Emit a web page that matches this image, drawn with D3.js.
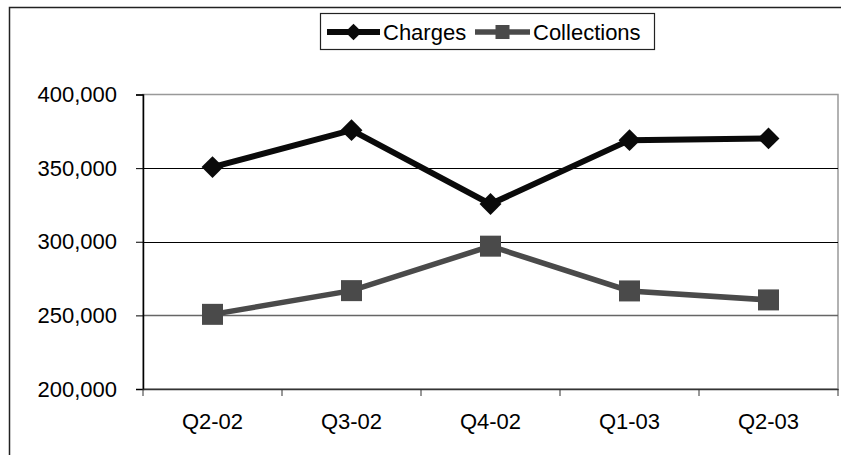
<!DOCTYPE html>
<html>
<head>
<meta charset="utf-8">
<script src="https://cdn.jsdelivr.net/npm/d3@7"></script>
<style>
  html, body { margin: 0; padding: 0; background: #fff; }
  svg { display: block; font-family: "Liberation Sans", Arial, sans-serif; }
</style>
</head>
<body>
<svg id="chart" width="841" height="455"></svg>
<script>
// Quarterly figures
const quarters = ["Q2-02", "Q3-02", "Q4-02", "Q1-03", "Q2-03"];
const charges = [350700, 375800, 325600, 369000, 370200];
const collections = [250700, 266800, 297000, 266600, 260500];
const yTicks = [200000, 250000, 300000, 350000, 400000];

const svg = d3.select("#chart");
const W = 841, H = 455;
const plot = { left: 143, top: 94.5, right: 838, bottom: 389 };
const fontSize = 22;

// outer frame (runs off the right and bottom edges)
svg.append("rect")
  .attr("x", 9.5).attr("y", 7.5)
  .attr("width", W + 20).attr("height", H + 20)
  .attr("fill", "#fff").attr("stroke", "#222").attr("stroke-width", 1.5);

const x = d3.scaleBand().domain(quarters).range([plot.left, plot.right]);
const y = d3.scaleLinear().domain([200000, 400000]).range([plot.bottom, plot.top]);

// plot frame
svg.append("rect")
  .attr("x", plot.left).attr("y", plot.top)
  .attr("width", plot.right - plot.left).attr("height", plot.bottom - plot.top)
  .attr("fill", "#fff").attr("stroke", "#999").attr("stroke-width", 1.5);

// gridlines
svg.append("g").selectAll("line")
  .data(yTicks.filter(v => v > 200000 && v < 400000))
  .join("line")
  .attr("x1", plot.left).attr("x2", plot.right)
  .attr("y1", d => Math.round(y(d)) + 0.5).attr("y2", d => Math.round(y(d)) + 0.5)
  .attr("stroke", d => d === 250000 ? "#666" : "#000")
  .attr("stroke-width", d => d === 250000 ? 1.5 : 1.2);

// y axis
const fmt = d3.format(",");
const yAxis = svg.append("g")
  .attr("transform", `translate(${plot.left},0)`)
  .call(d3.axisLeft(y).tickValues(yTicks).tickFormat(fmt).tickSize(7).tickPadding(19));
yAxis.select(".domain").attr("stroke", "#000").attr("stroke-width", 1.5);
yAxis.selectAll(".tick line").attr("stroke", "#000");
yAxis.selectAll("text")
  .attr("font-size", fontSize).attr("fill", "#000")
  .attr("font-family", "Liberation Sans, Arial, sans-serif");

// x axis with ticks at category boundaries
const xAxis = svg.append("g")
  .attr("transform", `translate(0,${plot.bottom})`)
  .call(d3.axisBottom(x).tickSize(0).tickPadding(24));
xAxis.select(".domain").attr("stroke", "#333").attr("stroke-width", 1.5);
xAxis.selectAll("text")
  .attr("font-size", fontSize).attr("fill", "#000")
  .attr("font-family", "Liberation Sans, Arial, sans-serif");
xAxis.append("g").selectAll("line")
  .data(quarters.map(q => x(q)).concat([plot.right]))
  .join("line")
  .attr("x1", d => d).attr("x2", d => d)
  .attr("y1", 0).attr("y2", 7)
  .attr("stroke", "#333").attr("stroke-width", 1);

const cx = q => x(q) + x.bandwidth() / 2;
const line = d3.line().x((d, i) => cx(quarters[i])).y(d => y(d));

const diamond = d3.symbol().type(d3.symbolSquare).size(240);
const square = d3.symbol().type(d3.symbolSquare).size(441);

// Collections series
svg.append("path").datum(collections)
  .attr("d", line).attr("fill", "none")
  .attr("stroke", "#4a4a4a").attr("stroke-width", 5.5);
svg.append("g").selectAll("path")
  .data(collections).join("path")
  .attr("d", square)
  .attr("transform", (d, i) => `translate(${cx(quarters[i])},${y(d)})`)
  .attr("fill", "#4a4a4a");

// Charges series
svg.append("path").datum(charges)
  .attr("d", line).attr("fill", "none")
  .attr("stroke", "#0a0a0a").attr("stroke-width", 6);
svg.append("g").selectAll("path")
  .data(charges).join("path")
  .attr("d", diamond)
  .attr("transform", (d, i) => `translate(${cx(quarters[i])},${y(d)}) rotate(45)`)
  .attr("fill", "#0a0a0a");

// legend
const lg = svg.append("g");
lg.append("rect")
  .attr("x", 320.5).attr("y", 13.5).attr("width", 334).attr("height", 36)
  .attr("fill", "#fff").attr("stroke", "#222").attr("stroke-width", 1.2);
const ly = 32;
const items = [
  { name: "Charges", color: "#0a0a0a", x0: 327, x1: 380, sym: d3.symbol().type(d3.symbolSquare).size(140), rot: 45, sw: 6 },
  { name: "Collections", color: "#4a4a4a", x0: 475, x1: 530, sym: d3.symbol().type(d3.symbolSquare).size(196), rot: 0, sw: 5.5 }
];
items.forEach(it => {
  lg.append("line").attr("x1", it.x0).attr("x2", it.x1).attr("y1", ly).attr("y2", ly)
    .attr("stroke", it.color).attr("stroke-width", it.sw);
  lg.append("path").attr("d", it.sym())
    .attr("transform", `translate(${(it.x0 + it.x1) / 2},${ly}) rotate(${it.rot})`)
    .attr("fill", it.color);
  lg.append("text").attr("x", it.x1 + 3).attr("y", ly).attr("dy", "0.35em")
    .attr("font-size", fontSize).attr("fill", "#000").text(it.name);
});
</script>
</body>
</html>
